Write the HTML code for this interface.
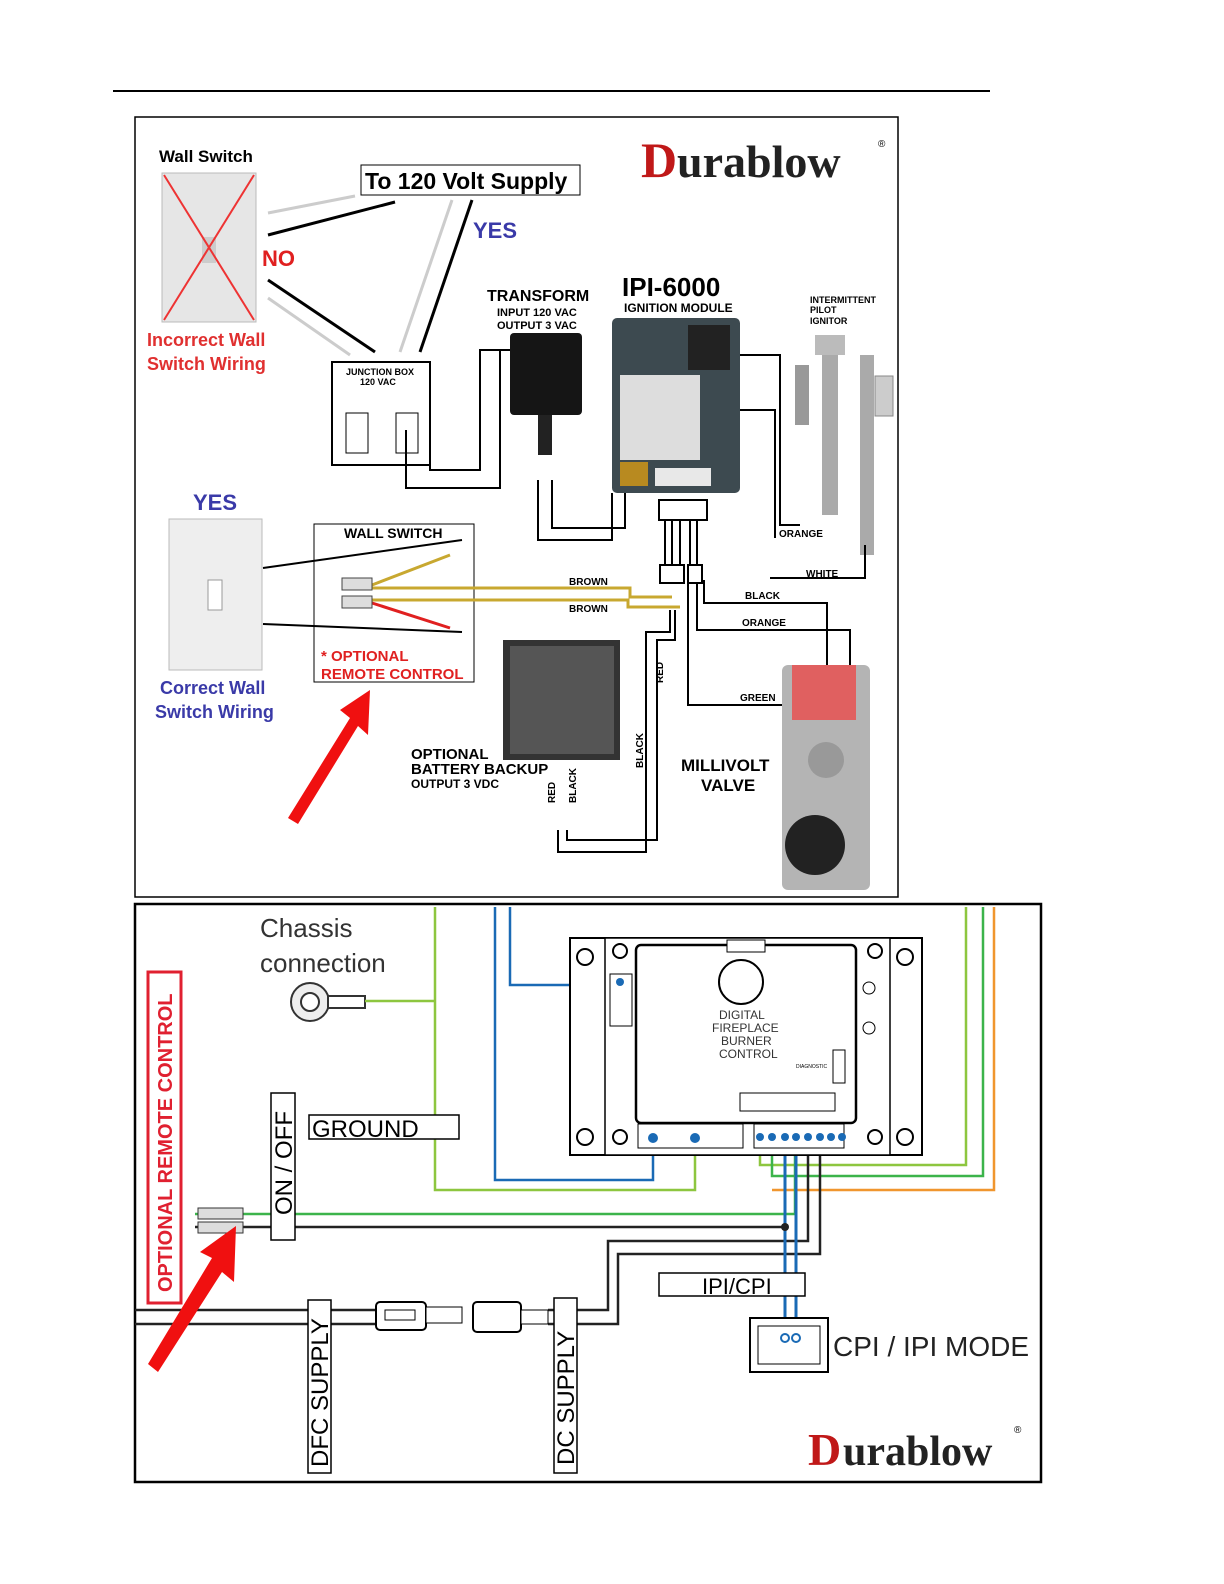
<!DOCTYPE html>
<html><head><meta charset="utf-8"><style>
html,body{margin:0;padding:0;background:#fff}
svg{display:block}
text{font-family:"Liberation Sans",sans-serif}
</style></head><body>
<svg width="1224" height="1584" viewBox="0 0 1224 1584" xmlns="http://www.w3.org/2000/svg">
<rect width="1224" height="1584" fill="#fff"/>
<line x1="113" y1="91" x2="990" y2="91" stroke="#000" stroke-width="2"/>
<!-- TOP BOX -->
<rect x="135" y="117" width="763" height="780" fill="#fff" stroke="#000" stroke-width="1.5"/>
<text x="159" y="162" font-size="17" font-weight="bold">Wall Switch</text>
<rect x="162" y="173" width="94" height="149" fill="#e6e6e6" stroke="#bbb"/>
<rect x="202" y="237" width="14" height="26" fill="#ccc"/>
<line x1="164" y1="175" x2="254" y2="320" stroke="#e33" stroke-width="2"/>
<line x1="254" y1="175" x2="164" y2="320" stroke="#e33" stroke-width="2"/>
<text x="262" y="266" font-size="22" font-weight="bold" fill="#e02020">NO</text>
<text x="147" y="346" font-size="18" font-weight="bold" fill="#e03030">Incorrect Wall</text>
<text x="147" y="370" font-size="18" font-weight="bold" fill="#e03030">Switch Wiring</text>
<rect x="361" y="165" width="219" height="30" fill="#fff" stroke="#000"/>
<text x="365" y="189" font-size="23" font-weight="bold">To 120 Volt Supply</text>
<text x="641" y="177" font-size="50" font-weight="bold" fill="#c01818" style="font-family:'Liberation Serif',serif">D</text>
<text x="677" y="177" font-size="46" font-weight="bold" fill="#222" style="font-family:'Liberation Serif',serif">urablow</text>
<text x="878" y="147" font-size="10">®</text>
<text x="473" y="238" font-size="22" font-weight="bold" fill="#3a3aa8">YES</text>
<g stroke-width="3">
<line x1="268" y1="213" x2="355" y2="196" stroke="#ccc"/>
<line x1="268" y1="235" x2="395" y2="202" stroke="#000"/>
<line x1="268" y1="280" x2="375" y2="352" stroke="#000"/>
<line x1="268" y1="298" x2="350" y2="355" stroke="#ccc"/>
<line x1="420" y1="352" x2="472" y2="200" stroke="#000"/>
<line x1="400" y1="352" x2="452" y2="200" stroke="#ccc"/>
</g>
<rect x="332" y="362" width="98" height="103" fill="#fff" stroke="#000" stroke-width="2"/>
<text x="346" y="375" font-size="9" font-weight="bold">JUNCTION BOX</text>
<text x="360" y="385" font-size="9" font-weight="bold">120 VAC</text>
<rect x="346" y="413" width="22" height="40" fill="#fff" stroke="#000"/>
<rect x="396" y="413" width="22" height="40" fill="#fff" stroke="#000"/>
<text x="487" y="301" font-size="16" font-weight="bold">TRANSFORM</text>
<text x="497" y="316" font-size="11" font-weight="bold">INPUT 120 VAC</text>
<text x="497" y="329" font-size="11" font-weight="bold">OUTPUT 3 VAC</text>
<rect x="510" y="333" width="72" height="82" rx="4" fill="#151515"/>
<rect x="538" y="415" width="14" height="40" fill="#222"/>
<text x="622" y="296" font-size="26" font-weight="bold">IPI-6000</text>
<text x="624" y="312" font-size="12" font-weight="bold">IGNITION MODULE</text>
<rect x="612" y="318" width="128" height="175" rx="5" fill="#3d4a50"/>
<rect x="620" y="375" width="80" height="85" fill="#ddd"/>
<rect x="688" y="325" width="42" height="45" fill="#222"/>
<rect x="620" y="462" width="28" height="24" fill="#b88a20"/>
<rect x="655" y="468" width="56" height="18" fill="#e8e8e8"/>
<rect x="659" y="500" width="48" height="20" fill="#fff" stroke="#000" stroke-width="2"/>
<text x="810" y="303" font-size="9" font-weight="bold">INTERMITTENT</text>
<text x="810" y="313" font-size="9" font-weight="bold">PILOT</text>
<text x="810" y="324" font-size="9" font-weight="bold">IGNITOR</text>
<rect x="815" y="335" width="30" height="20" fill="#bbb"/>
<rect x="822" y="355" width="16" height="160" fill="#aaa"/>
<rect x="795" y="365" width="14" height="60" fill="#999"/>
<rect x="860" y="355" width="14" height="200" fill="#aaa"/>
<rect x="875" y="376" width="18" height="40" fill="#ccc" stroke="#888"/>
<g fill="none" stroke="#000" stroke-width="2">
<polyline points="430,425 430,470 480,470 480,350 510,350"/>
<polyline points="406,430 406,488 500,488 500,350"/>
<polyline points="538,480 538,540 612,540 612,493"/>
<polyline points="552,480 552,528 625,528 625,493"/>
<polyline points="740,355 780,355 780,525 800,525"/>
<polyline points="740,410 775,410 775,538"/>
<polyline points="770,578 865,578 865,545"/>
<line x1="665" y1="520" x2="665" y2="570"/><line x1="672" y1="520" x2="672" y2="570"/><line x1="680" y1="520" x2="680" y2="570"/>
<line x1="690" y1="520" x2="690" y2="570"/><line x1="697" y1="520" x2="697" y2="570"/>
<polyline points="704,580 704,603 827,603 827,665"/>
<polyline points="697,580 697,630 850,630 850,665"/>
<polyline points="688,580 688,705 795,705"/>
<polyline points="670,610 670,632 646,632 646,852 558,852 558,830"/>
<polyline points="675,610 675,640 657,640 657,840 567,840 567,830"/>
<line x1="263" y1="568" x2="462" y2="540"/>
<line x1="263" y1="624" x2="462" y2="632"/>
</g>
<rect x="660" y="565" width="24" height="18" fill="#fff" stroke="#000" stroke-width="2"/>
<rect x="688" y="565" width="14" height="18" fill="#fff" stroke="#000" stroke-width="2"/>
<text x="779" y="537" font-size="10" font-weight="bold">ORANGE</text>
<text x="806" y="577" font-size="10" font-weight="bold">WHITE</text>
<text x="745" y="599" font-size="10" font-weight="bold">BLACK</text>
<text x="742" y="626" font-size="10" font-weight="bold">ORANGE</text>
<text x="740" y="701" font-size="10" font-weight="bold">GREEN</text>
<text x="569" y="585" font-size="10" font-weight="bold">BROWN</text>
<text x="569" y="612" font-size="10" font-weight="bold">BROWN</text>
<text x="215" y="510" font-size="22" font-weight="bold" fill="#3a3aa8" text-anchor="middle">YES</text>
<rect x="169" y="519" width="93" height="151" fill="#eee" stroke="#bbb"/>
<rect x="208" y="580" width="14" height="30" fill="#fff" stroke="#999"/>
<text x="160" y="694" font-size="18" font-weight="bold" fill="#3a3aa8">Correct Wall</text>
<text x="155" y="718" font-size="18" font-weight="bold" fill="#3a3aa8">Switch Wiring</text>
<rect x="314" y="524" width="160" height="158" fill="none" stroke="#000"/>
<text x="344" y="538" font-size="14" font-weight="bold">WALL SWITCH</text>
<g fill="none" stroke-width="3">
<polyline points="372,585 450,555" stroke="#c8a830"/>
<polyline points="372,588 630,588 630,597 672,597" stroke="#c8a830"/>
<polyline points="372,600 628,600 628,607 680,607" stroke="#c8a830"/>
<polyline points="372,603 450,628" stroke="#e02020"/>
</g>
<rect x="342" y="578" width="30" height="12" fill="#ddd" stroke="#444"/>
<rect x="342" y="596" width="30" height="12" fill="#ddd" stroke="#444"/>
<text x="321" y="661" font-size="15" font-weight="bold" fill="#e02020">* OPTIONAL</text>
<text x="321" y="679" font-size="15" font-weight="bold" fill="#e02020">REMOTE CONTROL</text>
<rect x="503" y="640" width="117" height="120" fill="#333"/>
<rect x="510" y="646" width="104" height="108" fill="#555"/>
<text x="663" y="683" font-size="10" font-weight="bold" transform="rotate(-90 663 683)">RED</text>
<text x="643" y="768" font-size="10" font-weight="bold" transform="rotate(-90 643 768)">BLACK</text>
<text x="555" y="803" font-size="10" font-weight="bold" transform="rotate(-90 555 803)">RED</text>
<text x="576" y="803" font-size="10" font-weight="bold" transform="rotate(-90 576 803)">BLACK</text>
<text x="411" y="759" font-size="15" font-weight="bold">OPTIONAL</text>
<text x="411" y="774" font-size="15" font-weight="bold">BATTERY BACKUP</text>
<text x="411" y="788" font-size="12" font-weight="bold">OUTPUT 3 VDC</text>
<text x="681" y="771" font-size="17" font-weight="bold">MILLIVOLT</text>
<text x="701" y="791" font-size="17" font-weight="bold">VALVE</text>
<rect x="782" y="665" width="88" height="225" rx="6" fill="#b4b4b4"/>
<rect x="792" y="665" width="64" height="55" fill="#e06060"/>
<circle cx="826" cy="760" r="18" fill="#999"/>
<circle cx="815" cy="845" r="30" fill="#222"/>
<polygon points="288,818 350,718 340,710 370,690 368,735 358,726 298,824" fill="#f01010"/>
<!-- BOTTOM BOX -->
<rect x="135" y="904" width="906" height="578" fill="#fff" stroke="#000" stroke-width="2.5"/>
<text x="260" y="937" font-size="26" fill="#333">Chassis</text>
<text x="260" y="972" font-size="26" fill="#333">connection</text>
<circle cx="310" cy="1002" r="19" fill="#eee" stroke="#333" stroke-width="2"/>
<circle cx="310" cy="1002" r="9" fill="#fff" stroke="#333" stroke-width="2"/>
<rect x="328" y="996" width="37" height="12" fill="#fff" stroke="#333" stroke-width="2"/>
<g fill="none" stroke-width="2.5">
<polyline points="365,1001 435,1001" stroke="#8dc63f"/>
<polyline points="435,907 435,1190 695,1190 695,1137" stroke="#8dc63f"/>
<polyline points="510,907 510,985 620,985" stroke="#1a6ab5"/>
<polyline points="495,907 495,1180 653,1180 653,1137" stroke="#1a6ab5"/>
<polyline points="966,907 966,1165 760,1165 760,1137" stroke="#8dc63f"/>
<polyline points="983,907 983,1176 772,1176 772,1137" stroke="#3cb44b"/>
<polyline points="994,907 994,1190 772,1190" stroke="#f0962e"/>
<polyline points="195,1214 795,1214 795,1137" stroke="#3cb44b"/>
<polyline points="195,1227 785,1227" stroke="#222"/>
<polyline points="808,1137 808,1241 608,1241 608,1310 577,1310" stroke="#222"/>
<polyline points="820,1137 820,1254 618,1254 618,1324 577,1324" stroke="#222"/>
<line x1="785" y1="1137" x2="785" y2="1340" stroke="#1a6ab5" stroke-width="3"/>
<line x1="796" y1="1137" x2="796" y2="1340" stroke="#1a6ab5" stroke-width="3"/>
<line x1="135" y1="1310" x2="376" y2="1310" stroke="#222"/>
<line x1="135" y1="1324" x2="376" y2="1324" stroke="#222"/>
<line x1="548" y1="1310" x2="554" y2="1310" stroke="#222"/>
<line x1="548" y1="1324" x2="554" y2="1324" stroke="#222"/>
</g>
<circle cx="785" cy="1227" r="4" fill="#222"/>
<!-- module -->
<rect x="570" y="938" width="352" height="217" fill="#fff" stroke="#000" stroke-width="2"/>
<rect x="605" y="938" width="285" height="217" fill="#fff" stroke="#000" stroke-width="1.5"/>
<rect x="636" y="945" width="220" height="178" rx="5" fill="#fff" stroke="#000" stroke-width="2.5"/>
<rect x="727" y="940" width="38" height="12" fill="#fff" stroke="#000"/>
<circle cx="741" cy="982" r="22" fill="#fff" stroke="#000" stroke-width="2"/>
<circle cx="585" cy="957" r="8" fill="#fff" stroke="#000" stroke-width="2"/>
<circle cx="905" cy="957" r="8" fill="#fff" stroke="#000" stroke-width="2"/>
<circle cx="585" cy="1137" r="8" fill="#fff" stroke="#000" stroke-width="2"/>
<circle cx="905" cy="1137" r="8" fill="#fff" stroke="#000" stroke-width="2"/>
<circle cx="620" cy="951" r="7" fill="#fff" stroke="#000" stroke-width="2"/>
<circle cx="875" cy="951" r="7" fill="#fff" stroke="#000" stroke-width="2"/>
<circle cx="620" cy="1137" r="7" fill="#fff" stroke="#000" stroke-width="2"/>
<circle cx="875" cy="1137" r="7" fill="#fff" stroke="#000" stroke-width="2"/>
<circle cx="869" cy="988" r="6" fill="#fff" stroke="#000"/>
<circle cx="869" cy="1028" r="6" fill="#fff" stroke="#000"/>
<rect x="610" y="974" width="22" height="52" fill="#fff" stroke="#000"/>
<circle cx="620" cy="982" r="4" fill="#1a6ab5"/>
<text x="719" y="1019" font-size="12" fill="#333">DIGITAL</text>
<text x="712" y="1032" font-size="12" fill="#333">FIREPLACE</text>
<text x="721" y="1045" font-size="12" fill="#333">BURNER</text>
<text x="719" y="1058" font-size="12" fill="#333">CONTROL</text>
<text x="796" y="1068" font-size="5">DIAGNOSTIC</text>
<rect x="833" y="1050" width="12" height="33" fill="#fff" stroke="#000"/>
<rect x="740" y="1093" width="95" height="18" fill="#fff" stroke="#000"/>
<rect x="638" y="1124" width="105" height="24" fill="#fff" stroke="#000"/>
<rect x="754" y="1124" width="90" height="24" fill="#fff" stroke="#000"/>
<g fill="#1a6ab5">
<circle cx="653" cy="1138" r="5"/><circle cx="695" cy="1138" r="5"/>
<circle cx="760" cy="1137" r="4"/><circle cx="772" cy="1137" r="4"/><circle cx="785" cy="1137" r="4"/><circle cx="796" cy="1137" r="4"/><circle cx="808" cy="1137" r="4"/><circle cx="820" cy="1137" r="4"/><circle cx="831" cy="1137" r="4"/><circle cx="842" cy="1137" r="4"/>
</g>
<!-- labels -->
<rect x="148" y="972" width="33" height="331" fill="#fff" stroke="#e02030" stroke-width="3"/>
<text x="172" y="1292" font-size="20" font-weight="bold" fill="#e02030" transform="rotate(-90 172 1292)">OPTIONAL REMOTE CONTROL</text>
<rect x="271" y="1093" width="24" height="147" fill="#fff" stroke="#000" stroke-width="1.5"/>
<text x="292" y="1215" font-size="24" transform="rotate(-90 292 1215)">ON / OFF</text>
<rect x="309" y="1115" width="150" height="24" fill="#fff" stroke="#000" stroke-width="1.5"/>
<text x="312" y="1137" font-size="24">GROUND</text>
<rect x="198" y="1208" width="45" height="11" fill="#ddd" stroke="#333"/>
<rect x="198" y="1222" width="45" height="11" fill="#ddd" stroke="#333"/>
<rect x="659" y="1273" width="146" height="23" fill="#fff" stroke="#000" stroke-width="1.5"/>
<text x="702" y="1294" font-size="22">IPI/CPI</text>
<rect x="750" y="1318" width="78" height="54" fill="#fff" stroke="#000" stroke-width="2"/>
<rect x="758" y="1326" width="62" height="38" fill="none" stroke="#000"/>
<circle cx="785" cy="1338" r="4" fill="none" stroke="#1a6ab5" stroke-width="2"/>
<circle cx="796" cy="1338" r="4" fill="none" stroke="#1a6ab5" stroke-width="2"/>
<text x="833" y="1356" font-size="28" fill="#222">CPI / IPI MODE</text>
<rect x="308" y="1300" width="23" height="173" fill="#fff" stroke="#000" stroke-width="1.5"/>
<text x="328" y="1467" font-size="24" transform="rotate(-90 328 1467)">DFC SUPPLY</text>
<rect x="554" y="1298" width="23" height="175" fill="#fff" stroke="#000" stroke-width="1.5"/>
<text x="574" y="1465" font-size="24" transform="rotate(-90 574 1465)">DC SUPPLY</text>
<rect x="376" y="1302" width="50" height="28" rx="4" fill="#fff" stroke="#000" stroke-width="2"/>
<rect x="385" y="1310" width="30" height="10" fill="#fff" stroke="#000"/>
<rect x="426" y="1307" width="36" height="16" fill="#fff" stroke="#000"/>
<rect x="473" y="1302" width="48" height="30" rx="4" fill="#fff" stroke="#000" stroke-width="2"/>
<rect x="521" y="1310" width="27" height="14" fill="#fff" stroke="#000"/>
<text x="808" y="1465" font-size="46" font-weight="bold" fill="#c01818" style="font-family:'Liberation Serif',serif">D</text>
<text x="843" y="1465" font-size="42" font-weight="bold" fill="#222" style="font-family:'Liberation Serif',serif">urablow</text>
<text x="1014" y="1433" font-size="10">®</text>
<polygon points="148,1364 212,1258 200,1252 236,1226 234,1282 222,1272 158,1372" fill="#f01010"/>
</svg>
</body></html>
